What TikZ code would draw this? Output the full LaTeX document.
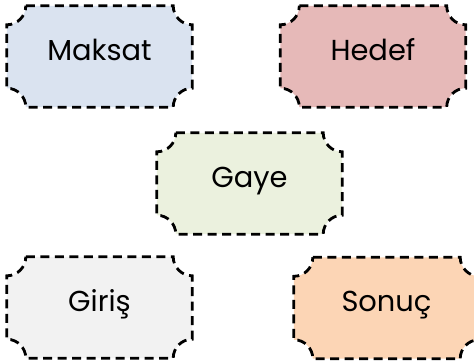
\documentclass[tikz,border=0pt]{standalone}
\usepackage{fontspec}
\setmainfont{Poppins}
\usetikzlibrary{backgrounds}
\definecolor{maksatblue}{HTML}{DAE3F0}
\definecolor{hedefred}{HTML}{E6B9B8}
\definecolor{gayegreen}{HTML}{EBF1DE}
\definecolor{girisgrey}{HTML}{F2F2F2}
\definecolor{sonucorange}{HTML}{FCD5B5}
\tikzset{%
  base/.style = {rectangle, minimum width=185bp, minimum height=101bp,
                 inner sep=0pt, text centered, text height=24bp, text depth=17bp,
                 font=\fontsize{29}{34}\selectfont},
  border/.style = {draw=black, line width=2.8bp, dash pattern=on 9bp off 5.5bp},
}
% concave-corner frame round a named node
\newcommand{\ticket}[2]{%
  \path[border, fill=#2]
    ([xshift=19bp]#1.north west) -- ([xshift=-19bp]#1.north east)
    arc[start angle=180, end angle=270, radius=19bp] -- ([yshift=19bp]#1.south east)
    arc[start angle=90, end angle=180, radius=19bp] -- ([xshift=19bp]#1.south west)
    arc[start angle=0, end angle=90, radius=19bp] -- ([yshift=-19bp]#1.north west)
    arc[start angle=270, end angle=360, radius=19bp] -- cycle;}

\begin{document}
\begin{tikzpicture}[x=1bp, y=1bp]
  \useasboundingbox (0,0) rectangle (474,360);

  \node (boxMaksat) [base] at ( 99.5, 303.5) {Maksat};
  \node (boxHedef)  [base] at (373.0, 303.5) {Hedef};
  \node (boxGaye)   [base] at (249.5, 176.5) {Gaye};
  \node (boxGiris)  [base] at ( 99.5,  52.5) {Giriş};
  \node (boxSonuc)  [base] at (386.5,  52.0) {Sonuç};

  \begin{scope}[on background layer]
    \ticket{boxMaksat}{maksatblue}
    \ticket{boxHedef}{hedefred}
    \ticket{boxGaye}{gayegreen}
    \ticket{boxGiris}{girisgrey}
    \ticket{boxSonuc}{sonucorange}
  \end{scope}
\end{tikzpicture}
\end{document}
